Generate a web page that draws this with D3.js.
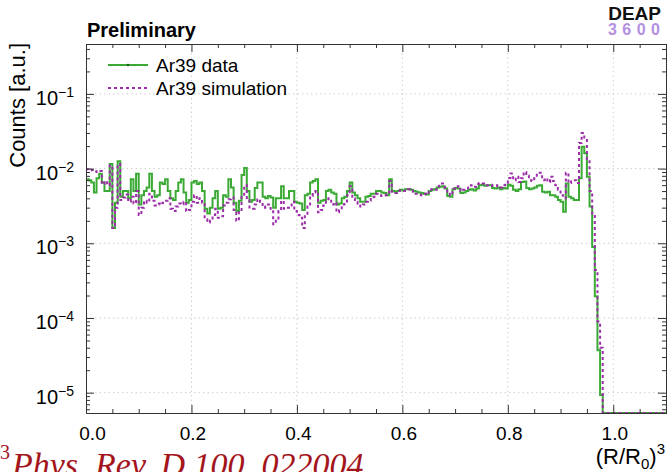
<!DOCTYPE html>
<html>
<head>
<meta charset="utf-8">
<script src="https://cdn.jsdelivr.net/npm/d3@7"></script>
<style>
  body { margin: 0; background: #fff; }
  svg { display: block; font-family: "Liberation Sans", Arial, sans-serif; }
</style>
</head>
<body>
<div id="chart"></div>
<script>
// histogram binning, (R/R0)^3
var binWidth = 0.005;

// Ar39 data, counts per bin [a.u.]
var dataCounts = [
  0.0072, 0.0070, 0.0065, 0.0048, 0.0074, 0.0085, 0.0065, 0.0050, 0.0050, 0.0115,
  0.0016, 0.0035, 0.0125, 0.0042, 0.0050, 0.0050, 0.0040, 0.0072, 0.0050, 0.0085,
  0.0033, 0.0044, 0.0050, 0.0056, 0.0085, 0.0050, 0.0042, 0.0044, 0.0065, 0.0062,
  0.0072, 0.0050, 0.0040, 0.0038, 0.0050, 0.0065, 0.0072, 0.0048, 0.0035, 0.0038,
  0.0065, 0.0068, 0.0062, 0.0065, 0.0050, 0.0029, 0.0025, 0.0030, 0.0040, 0.0050,
  0.0029, 0.0030, 0.0044, 0.0042, 0.0072, 0.0056, 0.0035, 0.0027, 0.0037, 0.0082,
  0.0102, 0.0050, 0.0036, 0.0038, 0.0055, 0.0065, 0.0065, 0.0042, 0.0040, 0.0043,
  0.0041, 0.0030, 0.0040, 0.0040, 0.0058, 0.0040, 0.0040, 0.0050, 0.0050, 0.0036,
  0.0035, 0.0034, 0.0028, 0.0044, 0.0046, 0.0065, 0.0068, 0.0072, 0.0035, 0.0037,
  0.0038, 0.0050, 0.0052, 0.0048, 0.0046, 0.0033, 0.0034, 0.0040, 0.0042, 0.0050,
  0.0065, 0.0048, 0.0044, 0.0040, 0.0036, 0.0036, 0.0042, 0.0043, 0.0046, 0.0046,
  0.0050, 0.0050, 0.0048, 0.0047, 0.0044, 0.0072, 0.0050, 0.0049, 0.0050, 0.0052,
  0.0051, 0.0053, 0.0053, 0.0052, 0.0050, 0.0049, 0.0048, 0.0047, 0.0046, 0.0045,
  0.0050, 0.0052, 0.0053, 0.0056, 0.0057, 0.0058, 0.0054, 0.0043, 0.0042, 0.0053,
  0.0055, 0.0054, 0.0047, 0.0048, 0.0050, 0.0052, 0.0053, 0.0051, 0.0054, 0.0060,
  0.0061, 0.0059, 0.0060, 0.0060, 0.0055, 0.0054, 0.0056, 0.0053, 0.0055, 0.0054,
  0.0061, 0.0059, 0.0052, 0.0050, 0.0053, 0.0066, 0.0067, 0.0055, 0.0053, 0.0054,
  0.0056, 0.0059, 0.0060, 0.0049, 0.0048, 0.0049, 0.0044, 0.0044, 0.0042, 0.0038,
  0.0036, 0.00265, 0.0063, 0.0042, 0.0040, 0.0038, 0.0038, 0.0074, 0.0196, 0.0160,
  0.0078, 0.0031, 0.00089, 0.000195, 0.000037, 0.0000093
];

// Ar39 simulation, counts per bin [a.u.]
var simCounts = [
  0.0098, 0.0095, 0.0096, 0.0092, 0.0090, 0.0093, 0.0062, 0.0068, 0.0060, 0.0110,
  0.0016, 0.0030, 0.0115, 0.0038, 0.0041, 0.0045, 0.0036, 0.0042, 0.0034, 0.0050,
  0.0024, 0.0030, 0.0037, 0.0035, 0.0046, 0.0037, 0.0032, 0.0034, 0.0033, 0.0035,
  0.0037, 0.0040, 0.0029, 0.0027, 0.0031, 0.0034, 0.0033, 0.0036, 0.0027, 0.0028,
  0.0036, 0.0044, 0.0035, 0.0040, 0.0035, 0.0021, 0.0019, 0.0020, 0.0024, 0.0029,
  0.0022, 0.0023, 0.0032, 0.0035, 0.0039, 0.0041, 0.0028, 0.0020, 0.0026, 0.0043,
  0.0060, 0.0038, 0.0029, 0.0029, 0.0033, 0.0039, 0.0036, 0.0030, 0.0031, 0.0033,
  0.0029, 0.0018, 0.0020, 0.0027, 0.0037, 0.0029, 0.0030, 0.0032, 0.0036, 0.0027,
  0.0024, 0.0022, 0.0016, 0.0024, 0.0031, 0.0043, 0.0048, 0.0050, 0.0026, 0.0028,
  0.0032, 0.0039, 0.0040, 0.0033, 0.0035, 0.0026, 0.0028, 0.0033, 0.0035, 0.0044,
  0.0058, 0.0040, 0.0036, 0.0032, 0.0031, 0.0033, 0.0036, 0.0037, 0.0041, 0.0042,
  0.0046, 0.0044, 0.0043, 0.0044, 0.0045, 0.0068, 0.0049, 0.0047, 0.0050, 0.0051,
  0.0050, 0.0052, 0.0053, 0.0051, 0.0049, 0.0046, 0.0045, 0.0044, 0.0046, 0.0045,
  0.0050, 0.0053, 0.0052, 0.0058, 0.0059, 0.0063, 0.0056, 0.0046, 0.0044, 0.0054,
  0.0057, 0.0058, 0.0050, 0.0052, 0.0054, 0.0056, 0.0060, 0.0057, 0.0062, 0.0064,
  0.0063, 0.0062, 0.0060, 0.0061, 0.0059, 0.0060, 0.0058, 0.0056, 0.0060, 0.0064,
  0.0075, 0.0086, 0.0070, 0.0078, 0.0066, 0.0074, 0.0090, 0.0080, 0.0070, 0.0068,
  0.0074, 0.0088, 0.0088, 0.0070, 0.0074, 0.0066, 0.0078, 0.0068, 0.0060, 0.0052,
  0.0044, 0.0040, 0.0088, 0.0064, 0.0070, 0.0070, 0.0064, 0.0220, 0.0300, 0.0260,
  0.0130, 0.0050, 0.0024, 0.00044, 0.00009, 0.00004
];

var xTicks = [0, 0.2, 0.4, 0.6, 0.8, 1.0];
var yExponents = [-1, -2, -3, -4, -5];
var seriesNames = ["Ar39 data", "Ar39 simulation"];

var width = 670, height = 472;
var frame = {left: 86, right: 666, top: 44, bottom: 413};
var green = "#3aaa35", purple = "#9b2ea8";

var x = d3.scaleLinear()
    .domain([0, 1.1])
    .range([frame.left, frame.right]);

var y = d3.scaleLog()
    .domain([Math.pow(10, -5.272), Math.pow(10, -0.332)])
    .range([frame.bottom, frame.top]);

var svg = d3.select("#chart").append("svg")
    .attr("width", width)
    .attr("height", height);

// grid
var xMinor = d3.range(0, 1.1001, 0.05).filter(function(d) { return Math.abs(d * 5 - Math.round(d * 5)) > 1e-6; });
var yMajor = yExponents.map(function(e) { return Math.pow(10, e); });
var yMinor = [];
d3.range(-6, 0).forEach(function(e) {
  d3.range(2, 10).forEach(function(m) {
    var v = m * Math.pow(10, e);
    if (v > y.domain()[0] && v < y.domain()[1]) yMinor.push(v);
  });
});

svg.append("g").selectAll("line")
    .data(xTicks.slice(1))
  .enter().append("line")
    .attr("x1", function(d) { return x(d); }).attr("x2", function(d) { return x(d); })
    .attr("y1", frame.top).attr("y2", frame.bottom)
    .attr("stroke", "#cfcfcf").attr("stroke-dasharray", "1.5,3").attr("stroke-width", 1);

svg.append("g").selectAll("line")
    .data(yMajor)
  .enter().append("line")
    .attr("x1", frame.left).attr("x2", frame.right)
    .attr("y1", function(d) { return y(d); }).attr("y2", function(d) { return y(d); })
    .attr("stroke", "#cfcfcf").attr("stroke-dasharray", "1.5,3").attr("stroke-width", 1);

// histograms
svg.append("clipPath").attr("id", "clip")
  .append("rect")
    .attr("x", frame.left).attr("y", frame.top - 1)
    .attr("width", frame.right - frame.left).attr("height", frame.bottom - frame.top + 2);

function histPoints(counts) {
  var yMin = y.domain()[0];
  var pts = counts.map(function(c, i) { return [i * binWidth, Math.max(c, yMin)]; });
  pts.push([counts.length * binWidth, yMin]);
  pts.push([x.domain()[1], yMin]);
  return pts;
}

var step = d3.line()
    .curve(d3.curveStepAfter)
    .x(function(d) { return x(d[0]); })
    .y(function(d) { return y(d[1]); });

var plot = svg.append("g").attr("clip-path", "url(#clip)");

plot.append("path")
    .datum(histPoints(dataCounts))
    .attr("d", step)
    .attr("fill", "none")
    .attr("stroke", green)
    .attr("stroke-width", 2);

plot.append("path")
    .datum(histPoints(simCounts))
    .attr("d", step)
    .attr("fill", "none")
    .attr("stroke", purple)
    .attr("stroke-width", 2)
    .attr("stroke-dasharray", "3,3");

// axes (ROOT style, ticks inside, on all four sides)
function ticks(g) {
  g.select(".domain").attr("stroke", "#333");
  g.selectAll(".tick line").attr("stroke", "#333");
}

svg.append("g")
    .attr("transform", "translate(0," + frame.bottom + ")")
    .call(d3.axisBottom(x).tickValues(xMinor).tickSize(-4).tickSizeOuter(0).tickFormat(""))
    .call(ticks);

var xAxis = svg.append("g")
    .attr("transform", "translate(0," + frame.bottom + ")")
    .call(d3.axisBottom(x).tickValues(xTicks).tickSize(-8).tickSizeOuter(0).tickPadding(14).tickFormat(d3.format(".1f")))
    .call(ticks);
xAxis.selectAll("text")
    .attr("font-size", 19).attr("fill", "#000")
    .attr("font-family", "Liberation Sans, Arial, sans-serif")
    .attr("dx", function(d) { return d === 0 ? 6 : 1; });

svg.append("g")
    .attr("transform", "translate(0," + frame.top + ")")
    .call(d3.axisTop(x).tickValues(xMinor).tickSize(-4).tickSizeOuter(0).tickFormat(""))
    .call(ticks);
svg.append("g")
    .attr("transform", "translate(0," + frame.top + ")")
    .call(d3.axisTop(x).tickValues(xTicks).tickSize(-8).tickSizeOuter(0).tickFormat(""))
    .call(ticks);

svg.append("g")
    .attr("transform", "translate(" + frame.left + ",0)")
    .call(d3.axisLeft(y).tickValues(yMinor).tickSize(-4).tickSizeOuter(0).tickFormat(""))
    .call(ticks);
svg.append("g")
    .attr("transform", "translate(" + frame.left + ",0)")
    .call(d3.axisLeft(y).tickValues(yMajor).tickSize(-8).tickSizeOuter(0).tickFormat(""))
    .call(ticks);

svg.append("g")
    .attr("transform", "translate(" + frame.right + ",0)")
    .call(d3.axisRight(y).tickValues(yMinor).tickSize(-4).tickSizeOuter(0).tickFormat(""))
    .call(ticks);
svg.append("g")
    .attr("transform", "translate(" + frame.right + ",0)")
    .call(d3.axisRight(y).tickValues(yMajor).tickSize(-8).tickSizeOuter(0).tickFormat(""))
    .call(ticks);

// y tick labels 10^n
var yLab = svg.append("g").attr("fill", "#000");
yExponents.forEach(function(e) {
  var t = yLab.append("text")
      .attr("x", frame.left - 12)
      .attr("y", y(Math.pow(10, e)) + 11)
      .attr("text-anchor", "end")
      .attr("font-size", 20);
  t.append("tspan").text("10");
  t.append("tspan").attr("dy", -8).attr("font-size", 14).text("\u2212" + (-e));
});

// axis titles
var xt = svg.append("text")
    .attr("x", frame.right - 1)
    .attr("y", 464)
    .attr("text-anchor", "end")
    .attr("font-size", 22);
xt.append("tspan").text("(R/R");
xt.append("tspan").attr("dy", 5).attr("font-size", 15).text("0");
xt.append("tspan").attr("dy", -5).text(")");
xt.append("tspan").attr("dy", -10).attr("font-size", 15).text("3");

svg.append("text")
    .attr("transform", "translate(25," + (frame.top - 1) + ") rotate(-90)")
    .attr("text-anchor", "end")
    .attr("font-size", 22)
    .text("Counts [a.u.]");

// header
svg.append("text")
    .attr("x", frame.left + 1)
    .attr("y", 37)
    .attr("font-size", 20)
    .attr("font-weight", "bold")
    .text("Preliminary");

svg.append("text")
    .attr("x", 661).attr("y", 20)
    .attr("text-anchor", "end")
    .attr("font-size", 19).attr("font-weight", "bold")
    .attr("fill", "#111")
    .text("DEAP");
svg.append("text")
    .attr("x", 608).attr("y", 35)
    .attr("font-size", 16).attr("font-weight", "bold")
    .attr("fill", "#b48fe3")
    .attr("textLength", 52).attr("lengthAdjust", "spacing")
    .text("3600");

// legend
var legend = svg.append("g").attr("font-size", 19);
seriesNames.forEach(function(name, i) {
  var ly = 65 + i * 23;
  var row = legend.append("g");
  row.append("line")
      .attr("x1", 108).attr("x2", 148)
      .attr("y1", ly).attr("y2", ly)
      .attr("stroke", i === 0 ? green : purple)
      .attr("stroke-width", 2)
      .attr("stroke-dasharray", i === 0 ? null : "3,3");
  if (i === 0) {
    row.append("circle").attr("cx", 128).attr("cy", ly).attr("r", 1.2).attr("fill", "#1a5a18");
  }
  row.append("text")
      .attr("x", 156).attr("y", ly + 6.5)
      .text(name);
});

// citation fragment at the bottom edge
var cite = svg.append("text")
    .attr("x", 0).attr("y", 476)
    .attr("font-family", "Liberation Serif, Times New Roman, serif")
    .attr("font-style", "italic")
    .attr("font-size", 34)
    .attr("fill", "#a3151b");
cite.append("tspan").attr("font-style", "normal").attr("font-size", 20).attr("dy", -17).text("3");
cite.append("tspan").attr("dy", 17).attr("dx", 2).text("Phys. Rev. D 100, 022004");
</script>
</body>
</html>
